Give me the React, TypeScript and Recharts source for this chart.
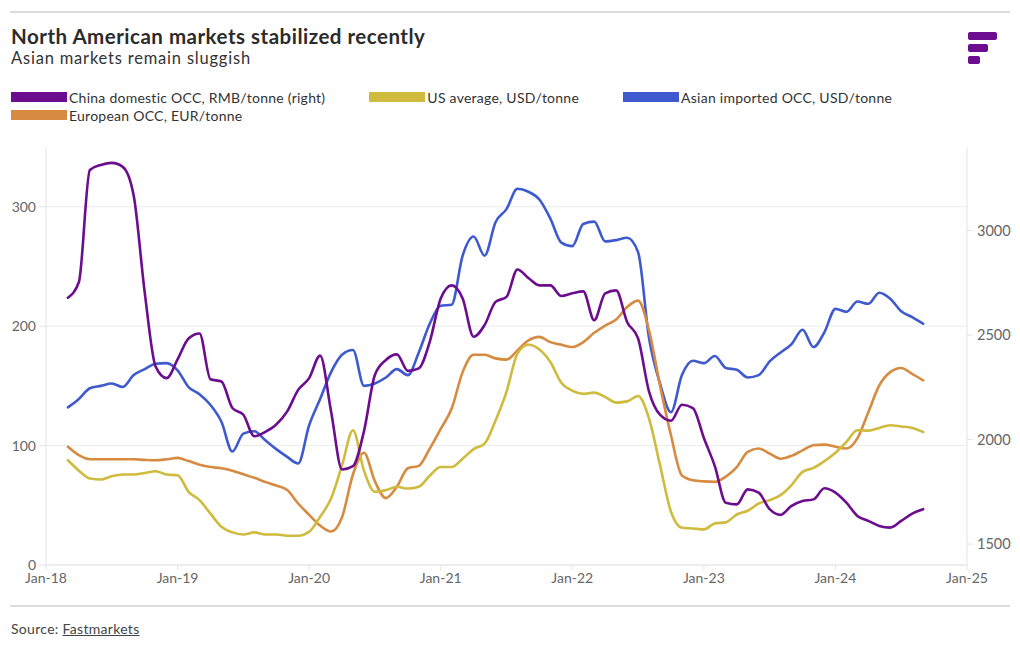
import React from "react";
import { LineChart, Line, XAxis, YAxis, CartesianGrid } from "recharts";

// Monthly data, Mar-18 .. Sep-24 (month index 2 .. 80, 0 = Jan-18)
const startMonth = 2;

const tickLabels = ["Jan-18", "Jan-19", "Jan-20", "Jan-21", "Jan-22", "Jan-23", "Jan-24", "Jan-25"];
const leftTicks = [0, 100, 200, 300];
const rightTicks = [1500, 2000, 2500, 3000];

// China domestic OCC, RMB/tonne (right axis)
const china = [
  2679, 2754, 3290, 3314, 3324, 3305, 3167, 2706, 2349, 2294,
  2384, 2484, 2508, 2289, 2278, 2151, 2119, 2016, 2037, 2072,
  2135, 2238, 2294, 2402, 2135, 1857, 1873, 2040, 2310, 2381,
  2408, 2329, 2341, 2468, 2675, 2738, 2675, 2492, 2548, 2659,
  2683, 2814, 2773, 2738, 2738, 2687, 2700, 2709, 2571, 2700,
  2714, 2563, 2484, 2230, 2119, 2090, 2167, 2151, 2008, 1873,
  1698, 1690, 1762, 1746, 1667, 1640, 1683, 1706, 1714, 1767,
  1746, 1698, 1635, 1611, 1587, 1579, 1611, 1646, 1667,
];

// US average, USD/tonne
const us = [
  87.7, 79, 72.4, 71.6, 74.4, 75.8, 75.8, 77, 78.5, 75.8,
  75.2, 61.3, 54.3, 43, 32, 27.3, 25.6, 27.3, 25.6, 25.6,
  24.5, 24.5, 27.8, 40.4, 55.7, 83.6, 112.8, 79, 61.3, 62.7,
  65.5, 64, 65.5, 74.7, 82, 82, 89, 97, 101.7, 121,
  145, 177, 184.4, 180.5, 170, 152.6, 146, 143.4, 144.3, 140.7,
  136, 137, 141.5, 122.6, 83.6, 44.6, 31.2, 30.6, 29.8, 34.8,
  35.7, 42.3, 45.4, 51.5, 54.3, 58.5, 66.9, 78, 81.3, 87,
  94, 103, 112.8, 112.5, 114.8, 117, 116, 114.8, 111.4,
];

// Asian imported OCC, USD/tonne
const asian = [
  132, 139, 148, 150, 152, 149, 159, 164, 168.5, 169,
  163, 149, 143, 134, 120, 95, 110, 112, 104.5, 97,
  90.5, 85, 117, 139, 161.5, 176, 180, 150, 152, 157,
  164, 159, 178, 202, 217, 218, 259, 275, 259, 287,
  298, 315, 312.5, 306, 290, 270, 267, 285.5, 287.5, 271,
  272, 274, 262, 190, 152, 128, 159, 171, 169, 175,
  165, 163.5, 157, 159, 170.5, 178, 185, 197, 182.5, 195,
  214.5, 212, 220.6, 218.7, 228, 223, 212.5, 207.5, 202,
];

// European OCC, EUR/tonne
const euro = [
  99, 92, 88.6, 88.5, 88.5, 88.5, 88.5, 88, 87.7, 88.5,
  89.7, 87, 84, 82, 81, 79, 76, 73, 69.6, 66.5,
  62.7, 51.5, 42, 33, 28, 40, 76, 94, 70, 56,
  65.5, 81, 83, 97.5, 114, 131, 161.5, 176, 176, 173,
  172, 179.7, 188, 191, 186.6, 184.4, 182.5, 186.6, 194.4, 200.5,
  205.6, 216, 221.4, 196.4, 150.4, 108.6, 75, 71, 70, 69.6,
  74, 82, 94.7, 97.5, 93.3, 89, 91.4, 96, 100.3, 100.8,
  99, 97.5, 106, 128, 150.4, 161.5, 165, 160, 154.6,
];

const series = [
  { key: "china", name: "China domestic OCC, RMB/tonne (right)", color: "#6b0d8e", axis: "right" },
  { key: "us", name: "US average, USD/tonne", color: "#cfbb3d", axis: "left" },
  { key: "asian", name: "Asian imported OCC, USD/tonne", color: "#3f59cf", axis: "left" },
  { key: "euro", name: "European OCC, EUR/tonne", color: "#d68b41", axis: "left" },
];

const data = china.map((_, i) => ({
  m: startMonth + i,
  china: china[i],
  us: us[i],
  asian: asian[i],
  euro: euro[i],
}));

const FONT = "Lato, 'Open Sans', sans-serif";
const drawOrder = ["asian", "euro", "us", "china"];

export default function App() {
  return (
    <div style={{ position: "absolute", left: 0, top: 0, width: 1020, height: 650, background: "#fff", fontFamily: FONT, color: "#2b2b2b" }}>
      <div style={{ position: "absolute", left: 10, top: 11, width: 1000, height: 2, background: "#dcdcdc" }} />
      <div style={{ position: "absolute", left: 11, top: 25, fontSize: 20.5, letterSpacing: 0.5, fontWeight: 700, lineHeight: "22px", color: "#2b2b2b", whiteSpace: "nowrap" }}>
        North American markets stabilized recently
      </div>
      <div style={{ position: "absolute", left: 11, top: 49, fontSize: 16.5, letterSpacing: 0.8, lineHeight: "18px", color: "#333", whiteSpace: "nowrap" }}>
        Asian markets remain sluggish
      </div>
      <svg style={{ position: "absolute", left: 0, top: 0 }} width={1020} height={80}>
        <rect x={968} y={32} width={29} height={8} rx={2} fill="#6b0d8e" />
        <rect x={968} y={44} width={20} height={8} rx={2} fill="#6b0d8e" />
        <rect x={968} y={56} width={12} height={8} rx={2} fill="#6b0d8e" />
      </svg>
      <div style={{ position: "absolute", left: 11, top: 88, width: 940, display: "flex", flexWrap: "wrap", columnGap: 44, rowGap: 0 }}>
        {series.map((s) => (
          <div key={s.key} style={{ display: "flex", alignItems: "center", height: 18, fontSize: 14, letterSpacing: 0.25, color: "#333", whiteSpace: "nowrap" }}>
            <span style={{ display: "inline-block", width: 56, height: 10, background: s.color, marginRight: 2 }} />
            <span>{s.name}</span>
          </div>
        ))}
      </div>
      <div style={{ position: "absolute", left: 0, top: 0 }}>
        <LineChart width={1020} height={600} data={data} margin={{ top: 147, right: 10, bottom: 5, left: 10 }}>
          <CartesianGrid yAxisId="left" vertical={false} stroke="#ececec" horizontalValues={leftTicks} />
          <XAxis
            type="number"
            dataKey="m"
            domain={[0, 84]}
            ticks={tickLabels.map((_, i) => i * 12)}
            tickFormatter={(v: number) => tickLabels[Math.round(v / 12)]}
            height={30}
            tickSize={5}
            tickMargin={3}
            stroke="#e4e4e4"
            tick={{ fill: "#666", fontSize: 14, fontFamily: FONT }}
            allowDataOverflow
          />
          <YAxis
            yAxisId="left"
            orientation="left"
            domain={[0, 350]}
            ticks={leftTicks}
            width={36}
            tickSize={7}
            tickMargin={3}
            stroke="#e4e4e4"
            tick={{ fill: "#666", fontSize: 14, fontFamily: FONT }}
            allowDataOverflow
          />
          <YAxis
            yAxisId="right"
            orientation="right"
            domain={[1400, 3400]}
            ticks={rightTicks}
            width={43}
            tickSize={6}
            tickMargin={4}
            stroke="#e4e4e4"
            tick={{ fill: "#666", fontSize: 14.5, fontFamily: FONT }}
            allowDataOverflow
          />
          {drawOrder.map((k) => {
            const s = series.find((x) => x.key === k)!;
            return (
              <Line
                key={s.key}
                yAxisId={s.axis}
                type="monotone"
                dataKey={s.key}
                name={s.name}
                stroke={s.color}
                strokeWidth={2.6}
                dot={false}
                activeDot={false}
                isAnimationActive={false}
                strokeLinejoin="round"
                strokeLinecap="round"
              />
            );
          })}
        </LineChart>
      </div>
      <div style={{ position: "absolute", left: 10, top: 605, width: 1000, height: 2, background: "#dcdcdc" }} />
      <div style={{ position: "absolute", left: 11, top: 621, fontSize: 14, letterSpacing: 0.3, lineHeight: "16px", color: "#444", whiteSpace: "nowrap" }}>
        Source: <span style={{ textDecoration: "underline" }}>Fastmarkets</span>
      </div>
    </div>
  );
}
